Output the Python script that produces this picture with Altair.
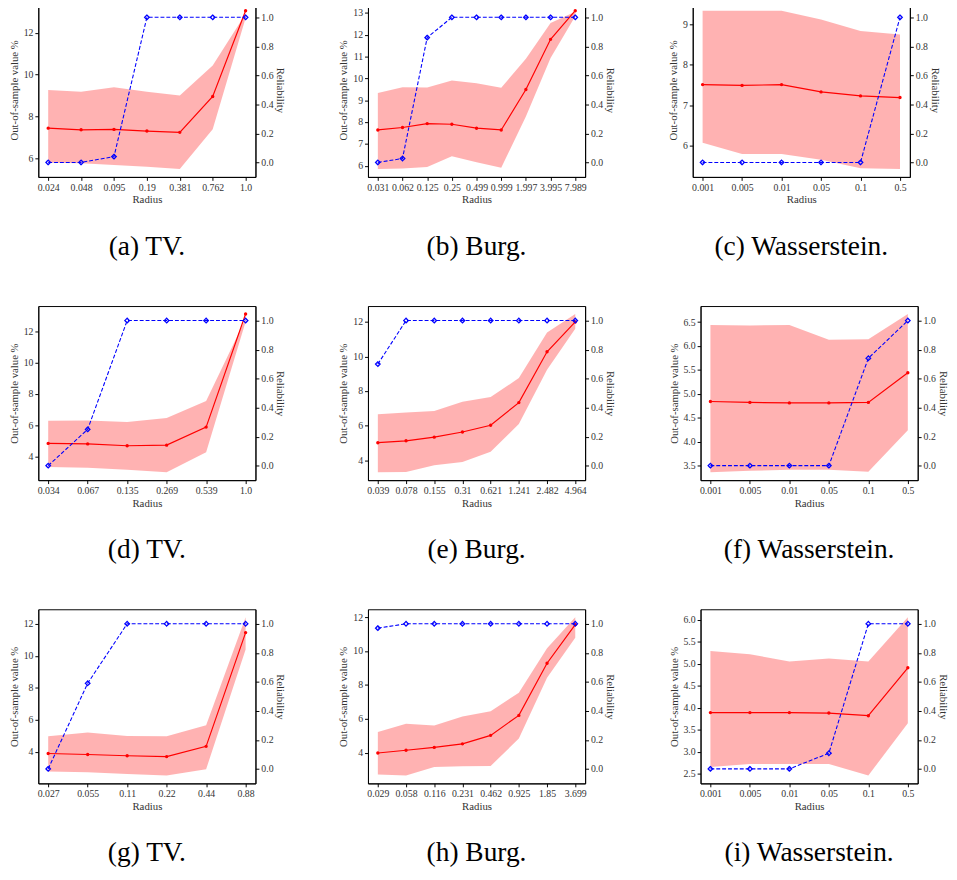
import altair as alt
import pandas as pd

# ---------------- data ----------------
rel_ticks = [0.0, 0.2, 0.4, 0.6, 0.8, 1.0]

labels_a = ["0.024", "0.048", "0.095", "0.19", "0.381", "0.762", "1.0"]
mean_a = [7.45, 7.37, 7.39, 7.31, 7.25, 8.96, 13.05]
hi_a = [9.27, 9.19, 9.40, 9.19, 9.01, 10.44, 12.90]
lo_a = [5.80, 5.77, 5.69, 5.61, 5.50, 7.40, 12.70]
rel_a = [0.0, 0.0, 0.04, 1.0, 1.0, 1.0, 1.0]
ticks_a = [6, 8, 10, 12]

labels_b = ["0.031", "0.062", "0.125", "0.25", "0.499", "0.999", "1.997", "3.995", "7.989"]
mean_b = [7.64, 7.75, 7.93, 7.90, 7.72, 7.64, 9.49, 11.79, 13.10]
hi_b = [9.33, 9.60, 9.58, 9.90, 9.78, 9.57, 10.90, 12.54, 13.05]
lo_b = [5.85, 5.87, 5.94, 6.43, 6.16, 5.91, 8.25, 10.94, 12.85]
rel_b = [0.0, 0.027, 0.86, 1.0, 1.0, 1.0, 1.0, 1.0, 1.0]
ticks_b = [6, 7, 8, 9, 10, 11, 12, 13]

labels_c = ["0.001", "0.005", "0.01", "0.05", "0.1", "0.5"]
mean_c = [7.51, 7.49, 7.51, 7.33, 7.23, 7.19]
hi_c = [9.34, 9.34, 9.34, 9.12, 8.84, 8.75]
lo_c = [6.07, 5.79, 5.79, 5.65, 5.44, 5.42]
rel_c = [0.0, 0.0, 0.0, 0.0, 0.0, 1.0]
ticks_c = [6, 7, 8, 9]

labels_d = ["0.034", "0.067", "0.135", "0.269", "0.539", "1.0"]
mean_d = [4.84, 4.81, 4.69, 4.73, 5.88, 13.10]
hi_d = [6.28, 6.30, 6.21, 6.46, 7.55, 12.80]
lo_d = [3.33, 3.29, 3.16, 3.00, 4.27, 12.60]
rel_d = [0.0, 0.25, 1.0, 1.0, 1.0, 1.0]
ticks_d = [4, 6, 8, 10, 12]

labels_e = ["0.039", "0.078", "0.155", "0.31", "0.621", "1.241", "2.482", "4.964"]
mean_e = [5.01, 5.12, 5.33, 5.63, 6.02, 7.33, 10.27, 12.00]
hi_e = [6.66, 6.76, 6.85, 7.38, 7.65, 8.75, 11.38, 12.46]
lo_e = [3.30, 3.32, 3.71, 3.89, 4.48, 6.09, 9.23, 11.60]
rel_e = [0.70, 1.0, 1.0, 1.0, 1.0, 1.0, 1.0, 1.0]
ticks_e = [4, 6, 8, 10, 12]

labels_f = ["0.001", "0.005", "0.01", "0.05", "0.1", "0.5"]
mean_f = [4.84, 4.82, 4.81, 4.81, 4.82, 5.44]
hi_f = [6.44, 6.43, 6.44, 6.13, 6.14, 6.67]
lo_f = [3.36, 3.39, 3.41, 3.41, 3.37, 4.24]
rel_f = [0.0, 0.0, 0.0, 0.0, 0.74, 1.0]
ticks_f = [3.5, 4.0, 4.5, 5.0, 5.5, 6.0, 6.5]

labels_g = ["0.027", "0.055", "0.11", "0.22", "0.44", "0.88"]
mean_g = [3.90, 3.84, 3.76, 3.71, 4.35, 11.45]
hi_g = [4.98, 5.22, 5.00, 4.98, 5.67, 12.41]
lo_g = [2.78, 2.73, 2.63, 2.53, 2.92, 10.40]
rel_g = [0.0, 0.59, 1.0, 1.0, 1.0, 1.0]
ticks_g = [4, 6, 8, 10, 12]

labels_h = ["0.029", "0.058", "0.116", "0.231", "0.462", "0.925", "1.85", "3.699"]
mean_h = [3.98, 4.14, 4.31, 4.52, 5.02, 6.20, 9.28, 11.56]
hi_h = [5.22, 5.70, 5.60, 6.14, 6.45, 7.54, 10.16, 12.00]
lo_h = [2.71, 2.65, 3.15, 3.19, 3.21, 4.83, 8.42, 10.78]
rel_h = [0.97, 1.0, 1.0, 1.0, 1.0, 1.0, 1.0, 1.0]
ticks_h = [4, 6, 8, 10, 12]

labels_i = ["0.001", "0.005", "0.01", "0.05", "0.1", "0.5"]
mean_i = [3.89, 3.89, 3.89, 3.88, 3.82, 4.91]
hi_i = [5.29, 5.22, 5.05, 5.12, 5.05, 6.06]
lo_i = [2.65, 2.72, 2.72, 2.72, 2.46, 3.65]
rel_i = [0.0, 0.0, 0.0, 0.108, 1.0, 1.0]
ticks_i = [2.5, 3.0, 3.5, 4.0, 4.5, 5.0, 5.5, 6.0]

captions = ["(a) TV.", "(b) Burg.", "(c) Wasserstein.",
            "(d) TV.", "(e) Burg.", "(f) Wasserstein.",
            "(g) TV.", "(h) Burg.", "(i) Wasserstein."]

FONT = "Liberation Serif"
W, H = 222, 178


def panel(labels, mean, lo, hi, rel, yticks, yfmt, caption):
    df = pd.DataFrame({"r": labels, "mean": mean, "lo": lo, "hi": hi, "rel": rel})
    n = len(labels)
    allv = list(mean) + list(lo) + list(hi)
    mn, mx = min(allv), max(allv)
    m = 0.05 * (mx - mn)
    ysc = alt.Scale(domain=[mn - m, mx + m], nice=False, zero=False)
    yax = alt.Axis(title="Out-of-sample value %", values=yticks, format=yfmt)
    x = alt.X("r:N", sort=labels,
              scale=alt.Scale(type="point", padding=0.05 * (n - 1)),
              axis=alt.Axis(title="Radius", labelAngle=0, labelOverlap=False))
    base = alt.Chart(df)
    band = base.mark_area(color="#ff0000", opacity=0.3).encode(
        x=x,
        y=alt.Y("lo:Q", scale=ysc, axis=yax),
        y2="hi:Q",
    )
    line = base.mark_line(
        color="#ff0000", strokeWidth=1.2,
        point=alt.OverlayMarkDef(filled=True, color="#ff0000", size=12),
    ).encode(x=x, y=alt.Y("mean:Q", scale=ysc, axis=yax))
    left = alt.layer(band, line)
    blue = base.mark_line(
        color="#0000ff", strokeWidth=1.1, strokeDash=[4, 2],
        point=alt.OverlayMarkDef(shape="diamond", filled=False, color="#0000ff",
                                 size=22, strokeWidth=1.3, strokeDash=[1, 0]),
    ).encode(
        x=x,
        y=alt.Y("rel:Q", scale=alt.Scale(domain=[-0.1, 1.1], nice=False, zero=False),
                axis=alt.Axis(title="Reliability", orient="right", values=rel_ticks,
                              format=".1f", titlePadding=2)),
    )
    return alt.layer(left, blue).resolve_scale(y="independent").properties(
        width=W, height=H,
        title=alt.Title(caption, orient="bottom", frame="group", anchor="middle",
                        fontSize=28, font=FONT, fontWeight="normal", color="black", offset=29),
    )


specs = [
    (labels_a, mean_a, lo_a, hi_a, rel_a, ticks_a, "d"),
    (labels_b, mean_b, lo_b, hi_b, rel_b, ticks_b, "d"),
    (labels_c, mean_c, lo_c, hi_c, rel_c, ticks_c, "d"),
    (labels_d, mean_d, lo_d, hi_d, rel_d, ticks_d, "d"),
    (labels_e, mean_e, lo_e, hi_e, rel_e, ticks_e, "d"),
    (labels_f, mean_f, lo_f, hi_f, rel_f, ticks_f, ".1f"),
    (labels_g, mean_g, lo_g, hi_g, rel_g, ticks_g, "d"),
    (labels_h, mean_h, lo_h, hi_h, rel_h, ticks_h, "d"),
    (labels_i, mean_i, lo_i, hi_i, rel_i, ticks_i, ".1f"),
]
panels = [panel(*s, captions[k]) for k, s in enumerate(specs)]

rows = [alt.hconcat(*panels[r * 3:(r + 1) * 3], spacing=52) for r in range(3)]
chart = alt.vconcat(*rows, spacing=45).properties(
    padding={"left": 0, "top": -16, "right": 0, "bottom": 0}
).configure_view(
    stroke="black", strokeWidth=1
).configure_axis(
    grid=False, labelFont=FONT, titleFont=FONT, labelFontSize=10, titleFontSize=11,
    titleFontWeight="normal", labelColor="#333", titleColor="#333",
    tickColor="black", domainColor="black", tickSize=3.5, labelPadding=2, titlePadding=4,
).configure_axisX(titlePadding=2)

chart.save("out.html", embed_options={"renderer": "svg", "actions": False})
